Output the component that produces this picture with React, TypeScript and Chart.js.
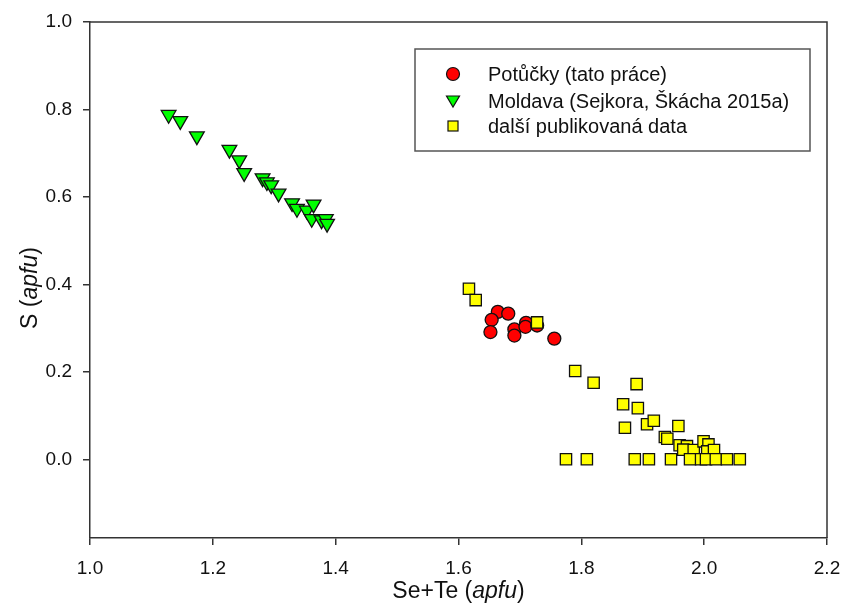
import React, { useEffect, useRef } from "react";
import { Chart, registerables } from "chart.js";

Chart.register(...registerables);

const xTicks = [1.0, 1.2, 1.4, 1.6, 1.8, 2.0, 2.2];
const yTicks = [0.0, 0.2, 0.4, 0.6, 0.8, 1.0];

const seriesLabels = [
  "Potůčky (tato práce)",
  "Moldava (Sejkora, Škácha 2015a)",
  "další publikovaná data",
];

const potuckyX = [1.664, 1.681, 1.654, 1.652, 1.691, 1.691, 1.710, 1.709, 1.728, 1.756];
const potuckyY = [0.337, 0.333, 0.319, 0.291, 0.297, 0.283, 0.312, 0.303, 0.306, 0.276];

const moldavaX = [1.128, 1.147, 1.174, 1.227, 1.243, 1.251, 1.281, 1.288, 1.295, 1.307, 1.329, 1.337, 1.353, 1.364, 1.361, 1.377, 1.384, 1.386];
const moldavaY = [0.788, 0.774, 0.739, 0.708, 0.684, 0.655, 0.643, 0.634, 0.627, 0.608, 0.586, 0.573, 0.569, 0.583, 0.550, 0.547, 0.550, 0.539];

const otherX = [
  1.617, 1.628, 1.728, 1.790, 1.820, 1.890, 1.868, 1.892, 1.871, 1.907, 1.918, 1.958,
  1.936, 1.940, 1.960, 1.972, 1.966, 1.983, 1.999, 2.007, 2.005, 2.016,
  1.775, 1.809, 1.887, 1.910, 1.946, 1.977, 1.995, 2.003, 2.019, 2.037, 2.058,
];
const otherY = [
  0.390, 0.364, 0.313, 0.202, 0.175, 0.172, 0.126, 0.117, 0.072, 0.080, 0.088, 0.076,
  0.051, 0.047, 0.032, 0.030, 0.022, 0.021, 0.041, 0.034, 0.018, 0.021,
  0, 0, 0, 0, 0, 0, 0, 0, 0, 0, 0,
];

const FONT = "Arial, 'Liberation Sans', sans-serif";
const AXIS = "#333333";

const toPoints = (xs: number[], ys: number[]) => xs.map((x, i) => ({ x, y: ys[i] }));

const framePlugin = {
  id: "frameAndExtras",
  afterDraw(chart: any) {
    const { ctx, chartArea } = chart;
    const { left, right, top, bottom } = chartArea;
    ctx.save();
    ctx.strokeStyle = AXIS;
    ctx.lineWidth = 1.5;
    ctx.beginPath();
    ctx.moveTo(left, top);
    ctx.lineTo(right, top);
    ctx.lineTo(right, bottom);
    ctx.stroke();

    const drawMixed = (parts: { t: string; it: boolean }[], cx: number, cy: number) => {
      const fontN = `23px ${FONT}`;
      const fontI = `italic 23px ${FONT}`;
      let total = 0;
      parts.forEach((p) => {
        ctx.font = p.it ? fontI : fontN;
        total += ctx.measureText(p.t).width;
      });
      let x = cx - total / 2;
      ctx.textBaseline = "alphabetic";
      ctx.textAlign = "left";
      ctx.fillStyle = "#111";
      parts.forEach((p) => {
        ctx.font = p.it ? fontI : fontN;
        ctx.fillText(p.t, x, cy);
        x += ctx.measureText(p.t).width;
      });
    };
    drawMixed(
      [
        { t: "Se+Te (", it: false },
        { t: "apfu", it: true },
        { t: ")", it: false },
      ],
      (left + right) / 2,
      598
    );
    ctx.save();
    ctx.translate(37, 288);
    ctx.rotate(-Math.PI / 2);
    drawMixed(
      [
        { t: "S (", it: false },
        { t: "apfu", it: true },
        { t: ")", it: false },
      ],
      0,
      0
    );
    ctx.restore();

    const bx = 415, by = 49, bw = 395, bh = 102;
    ctx.fillStyle = "#fff";
    ctx.fillRect(bx, by, bw, bh);
    ctx.strokeStyle = "#555";
    ctx.lineWidth = 1.5;
    ctx.strokeRect(bx, by, bw, bh);
    const rows = [74, 101, 126];
    const mx = 453;
    ctx.lineWidth = 1.2;
    ctx.strokeStyle = "#111";
    ctx.fillStyle = "#ff0000";
    ctx.beginPath();
    ctx.arc(mx, rows[0], 6.5, 0, Math.PI * 2);
    ctx.fill();
    ctx.stroke();
    ctx.fillStyle = "#00ff00";
    ctx.beginPath();
    ctx.moveTo(mx - 6.5, rows[1] - 5);
    ctx.lineTo(mx + 6.5, rows[1] - 5);
    ctx.lineTo(mx, rows[1] + 6);
    ctx.closePath();
    ctx.fill();
    ctx.stroke();
    ctx.fillStyle = "#ffff00";
    ctx.fillRect(mx - 5, rows[2] - 5, 10, 10);
    ctx.strokeRect(mx - 5, rows[2] - 5, 10, 10);

    ctx.fillStyle = "#111";
    ctx.font = `20px ${FONT}`;
    ctx.textAlign = "left";
    ctx.textBaseline = "middle";
    seriesLabels.forEach((l, i) => ctx.fillText(l, 488, rows[i] + 1));
    ctx.restore();
  },
};

export default function App() {
  const ref = useRef<HTMLCanvasElement | null>(null);
  useEffect(() => {
    if (!ref.current) return;
    const chart = new Chart(ref.current, {
      type: "scatter",
      data: {
        datasets: [
          {
            label: seriesLabels[0],
            data: toPoints(potuckyX, potuckyY),
            pointStyle: "circle",
            pointRadius: 6.5,
            backgroundColor: "#ff0000",
            borderColor: "#111",
            borderWidth: 1.3,
            order: 1,
          },
          {
            label: seriesLabels[1],
            data: toPoints(moldavaX, moldavaY),
            pointStyle: "triangle",
            rotation: 180,
            pointRadius: 8.5,
            backgroundColor: "#00ff00",
            borderColor: "#111",
            borderWidth: 1.3,
            order: 2,
          },
          {
            label: seriesLabels[2],
            data: toPoints(otherX, otherY),
            pointStyle: "rect",
            pointRadius: 8,
            backgroundColor: "#ffff00",
            borderColor: "#111",
            borderWidth: 1.3,
            order: 0,
          },
        ],
      },
      options: {
        animation: false,
        responsive: false,
        events: [],
        layout: { padding: { top: 22, right: 16, left: 0, bottom: 0 } },
        plugins: { legend: { display: false }, tooltip: { enabled: false } },
        scales: {
          x: {
            type: "linear",
            position: "bottom",
            min: 1.0,
            max: 2.2,
            afterBuildTicks: (s: any) => {
              s.ticks = xTicks.map((v) => ({ value: v }));
            },
            afterFit: (s: any) => {
              s.height = 69;
              s.paddingLeft = 0;
              s.paddingRight = 0;
            },
            ticks: {
              callback: (v: any) => Number(v).toFixed(1),
              font: { family: FONT, size: 19 },
              color: "#111",
              padding: 12,
              maxRotation: 0,
              autoSkip: false,
            },
            grid: {
              drawOnChartArea: false,
              drawTicks: true,
              tickLength: 7,
              color: AXIS,
              lineWidth: 1.5,
            },
            border: { display: true, color: AXIS, width: 1.5 },
          },
          y: {
            type: "linear",
            position: "left",
            min: -0.18,
            max: 1.0,
            afterBuildTicks: (s: any) => {
              s.ticks = yTicks.map((v) => ({ value: v }));
            },
            afterFit: (s: any) => {
              s.width = 90;
              s.paddingTop = 0;
              s.paddingBottom = 0;
            },
            ticks: {
              callback: (v: any) => Number(v).toFixed(1),
              font: { family: FONT, size: 19 },
              color: "#111",
              padding: 11,
              autoSkip: false,
            },
            grid: {
              drawOnChartArea: false,
              drawTicks: true,
              tickLength: 7,
              color: AXIS,
              lineWidth: 1.5,
            },
            border: { display: true, color: AXIS, width: 1.5 },
          },
        },
      },
      plugins: [framePlugin],
    } as any);
    return () => chart.destroy();
  }, []);
  return (
    <div style={{ position: "fixed", left: 0, top: 0, width: 843, height: 607, background: "#fff" }}>
      <canvas ref={ref} width={843} height={607} style={{ display: "block" }} />
    </div>
  );
}
